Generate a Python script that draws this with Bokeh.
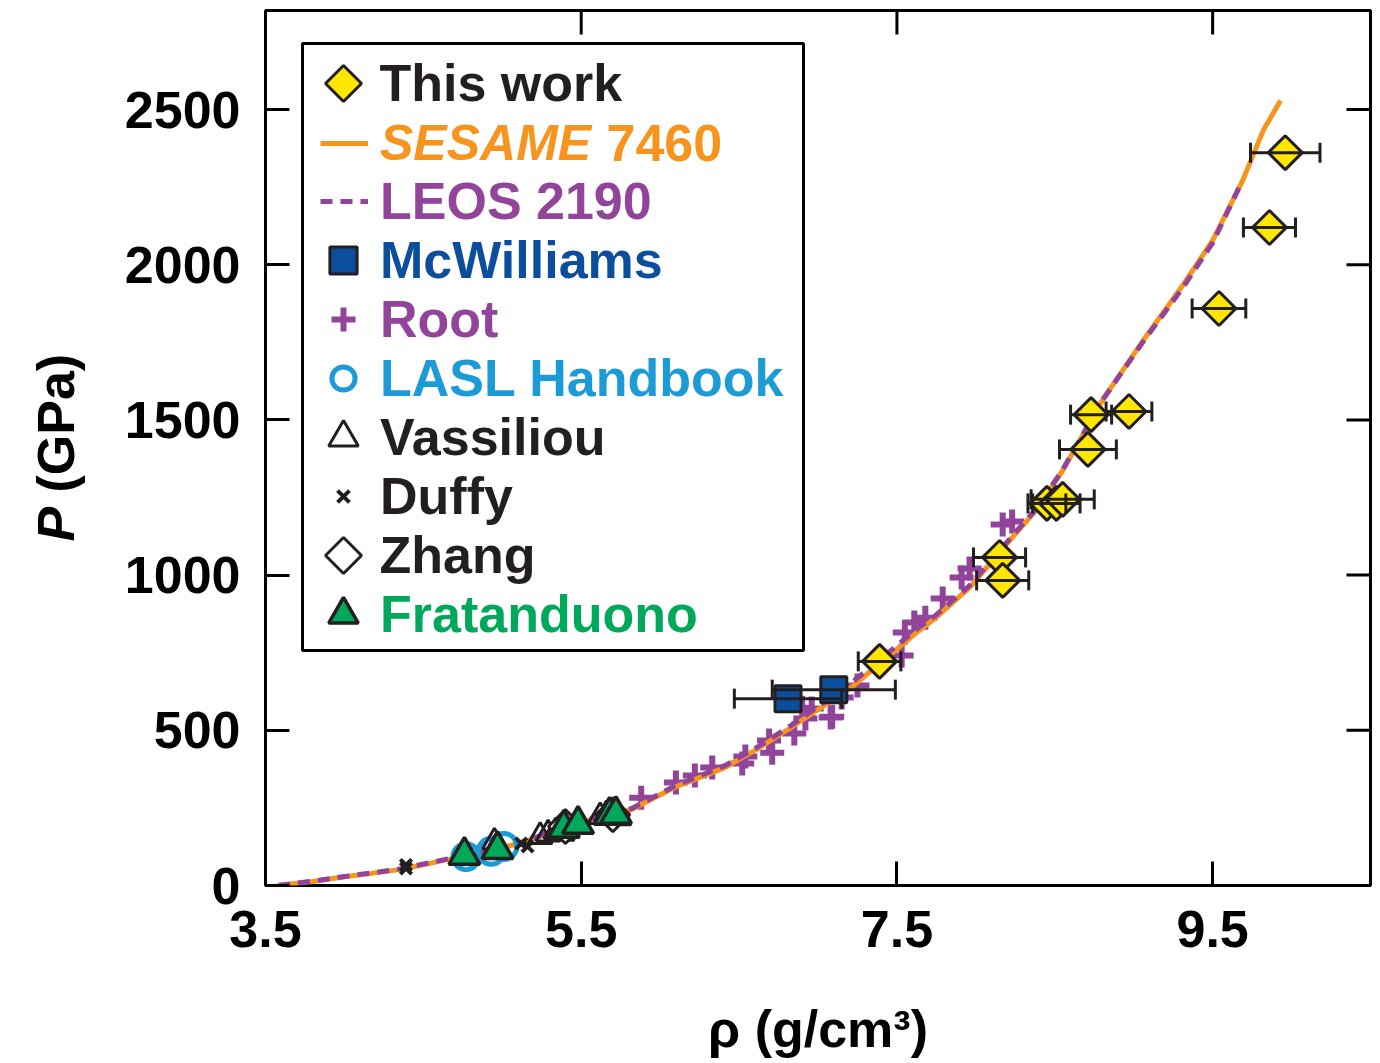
from math import pi

from bokeh.plotting import figure
from bokeh.layouts import row
from bokeh.models import (ColumnDataSource, Legend, LegendItem, Label, BoxAnnotation,
                          PolyAnnotation, Whisker, TeeHead, Range1d, FixedTicker)
from bokeh.embed import file_html
from bokeh.resources import INLINE

FONT = "Liberation Sans"
INK = "#231f20"
ORANGE = "#f7941d"
PURPLE = "#92449a"
NAVY = "#0b4f9c"
CYAN = "#1c9bd7"
GREEN = "#00a859"
YELLOW = "#ffe600"

# ---- model Hugoniots (density in g/cm3, pressure in GPa) ----
sesame_rho = [3.58, 3.80, 4.00, 4.17, 4.36, 4.63, 4.87, 5.14, 5.50, 5.82, 6.09, 6.41,
              6.62, 6.83, 7.21, 7.64, 7.74, 7.96, 8.23, 8.38, 8.55, 8.80, 9.06, 9.31,
              9.50, 9.69, 9.82, 9.93]
sesame_p = [0, 13, 28, 39, 52, 81, 106, 140, 205, 245, 316, 380,
            441, 509, 638, 821, 860, 960, 1121, 1208, 1337, 1562, 1756, 1933,
            2078, 2271, 2432, 2529]

leos_rho = [3.58, 3.80, 4.00, 4.17, 4.36, 4.63, 4.87, 5.14, 5.50, 5.82, 6.09, 6.41,
            6.62, 6.83, 7.21, 7.64, 7.74, 7.96, 8.23, 8.38, 8.55, 8.80, 9.06, 9.31,
            9.50, 9.68]
leos_p = [0, 14, 29, 40, 54, 83, 108, 142, 207, 248, 320, 386,
          447, 516, 652, 832, 868, 966, 1126, 1212, 1340, 1562, 1752, 1925,
          2070, 2262]

# ---- this work ----
tw_rho = [9.96, 9.86, 9.54, 8.97, 8.73, 8.71, 8.45, 8.51, 8.55, 8.15, 8.17, 7.39]
tw_p = [2361, 2120, 1859, 1527, 1517, 1405, 1231, 1231, 1244, 1057, 983, 722]
tw_err = [0.22, 0.165, 0.17, 0.145, 0.13, 0.18, 0.12, 0.15, 0.20, 0.165, 0.165, 0.135]

# ---- previous data ----
mcw_rho = [6.81, 7.10]
mcw_p = [602, 631]
mcw_err = [0.34, 0.39]

root_rho = [5.88, 6.10, 6.22, 6.33, 6.52, 6.54, 6.71, 6.69, 6.85, 6.90, 6.92, 6.96,
            7.08, 7.09, 7.15, 7.25, 7.53, 7.55, 7.61, 7.68, 7.79, 7.91, 7.96, 8.17, 8.23]
root_p = [283, 332, 354, 380, 393, 416, 428, 467, 490, 573, 538, 570,
          541, 544, 606, 644, 741, 815, 847, 863, 925, 992, 1021, 1163, 1173]

lasl_rho = [4.77, 4.93, 5.01]
lasl_p = [93, 110, 126]

vas_rho = [4.95, 5.24, 5.29, 5.34, 5.38, 5.62, 5.66, 5.74]
vas_p = [140, 158, 166, 174, 168, 222, 228, 218]

duffy_rho = [4.39, 4.39, 5.16, 5.12]
duffy_p = [66, 55, 126, 135]

zhang_rho = [5.40, 5.70]
zhang_p = [190, 228]

frat_rho = [4.76, 4.97, 5.39, 5.48, 5.68, 5.72]
frat_p = [97, 116, 184, 197, 226, 229]

x_ticks = [3.5, 5.5, 7.5, 9.5]
y_ticks = [0, 500, 1000, 1500, 2000, 2500]
X_LO, X_HI = 3.5, 10.5
Y_LO, Y_HI = 0, 2819

STRIP_W = 90   # width of the strip that carries the vertical axis title
TICK_LEN = 24  # inward tick length, px

# ---- main plot ----
p = figure(frame_width=1105, frame_height=875,
           min_border_left=265 - STRIP_W, min_border_right=10,
           min_border_top=10, min_border_bottom=178,
           x_range=Range1d(X_LO, X_HI), y_range=Range1d(Y_LO, Y_HI),
           output_backend="svg", toolbar_location=None)
p.background_fill_color = "white"
p.border_fill_color = "white"
p.outline_line_color = "black"
p.outline_line_width = 3
p.outline_line_alpha = 1
p.grid.visible = False

for ax in (p.xaxis[0], p.yaxis[0]):
    ax.axis_line_color = None
    ax.major_tick_in = TICK_LEN
    ax.major_tick_out = 0
    ax.major_tick_line_width = 3
    ax.major_tick_line_color = "black"
    ax.minor_tick_line_color = None
    ax.major_label_text_font = FONT
    ax.major_label_text_font_style = "bold"
    ax.major_label_text_font_size = "52px"
    ax.major_label_text_color = "black"
    ax.major_label_standoff = 25
p.xaxis.ticker = FixedTicker(ticks=x_ticks)
p.yaxis.ticker = FixedTicker(ticks=y_ticks)
p.xaxis.axis_label = "ρ (g/cm³)"
p.xaxis.axis_label_text_font = FONT
p.xaxis.axis_label_text_font_style = "bold"
p.xaxis.axis_label_text_font_size = "52px"
p.xaxis.axis_label_text_color = "black"
p.xaxis.axis_label_standoff = 50

# mirrored inward ticks on the right and top edges of the frame
p.ray(x=[X_HI] * len(y_ticks), y=y_ticks, length=TICK_LEN, length_units="screen",
      angle=pi, line_width=3, line_color="black")
p.ray(x=x_ticks, y=[Y_HI] * len(x_ticks), length=TICK_LEN, length_units="screen",
      angle=-pi / 2, line_width=3, line_color="black")

# ---- curves and points ----
r_root = p.scatter(root_rho, root_p, marker="cross", size=24, line_width=6, line_color=PURPLE)
r_ses = p.line(sesame_rho, sesame_p, line_width=5, line_color=ORANGE)
r_leos = p.line(leos_rho, leos_p, line_width=5, line_color=PURPLE, line_dash="12 8")
r_lasl = p.scatter(lasl_rho, lasl_p, marker="circle", size=26, line_width=5,
                   line_color=CYAN, fill_alpha=0)
r_vas = p.scatter(vas_rho, vas_p, marker="triangle", size=24, line_width=3,
                  line_color=INK, fill_alpha=0)
r_duffy = p.scatter(duffy_rho, duffy_p, marker="x", size=16, line_width=4, line_color=INK)
r_zhang = p.scatter(zhang_rho, zhang_p, marker="square", angle=pi / 4, size=24, line_width=3,
                    line_color=INK, fill_color="white")
r_frat = p.scatter(frat_rho, frat_p, marker="triangle", size=31, line_width=3.5,
                   line_color=INK, fill_color=GREEN)


def xerr(rho, pr, err):
    src = ColumnDataSource(dict(base=pr, lo=[r - e for r, e in zip(rho, err)],
                                hi=[r + e for r, e in zip(rho, err)]))
    w = Whisker(source=src, base="base", lower="lo", upper="hi", dimension="width",
                line_width=3, line_color=INK, level="glyph",
                lower_head=TeeHead(size=20, line_width=3, line_color=INK),
                upper_head=TeeHead(size=20, line_width=3, line_color=INK))
    p.add_layout(w)


xerr(mcw_rho, mcw_p, mcw_err)
r_mcw = p.scatter(mcw_rho, mcw_p, marker="square", size=26, line_width=3,
                  line_color=INK, fill_color=NAVY)
xerr(tw_rho, tw_p, tw_err)
r_tw = p.scatter(tw_rho, tw_p, marker="square", angle=pi / 4, size=24, line_width=3,
                 line_color=INK, fill_color=YELLOW)

# empty, transparent renderer: lets a legend row show only its label
r_blank = p.scatter([], [], marker="square", size=1, line_alpha=0, fill_alpha=0)

# ---- legend (one block per entry so every label keeps its own colour) ----
FL, FB = 265, 885          # frame left / bottom in page pixels
KEY_X, TEXT_X = 343, 380   # key centre and label start in page pixels

p.add_layout(BoxAnnotation(left=302 - FL, right=803 - FL, top=FB - 43, bottom=FB - 650,
                           left_units="screen", right_units="screen",
                           top_units="screen", bottom_units="screen",
                           fill_color="white", fill_alpha=1,
                           line_color="black", line_alpha=1, line_width=3))

# (label, renderer, colour, style, font size, key kind, key size)
entries = [
    ("This work", r_tw, INK, "bold", 52, "diamond", 0),
    ("SESAME", r_ses, ORANGE, "bold italic", 50, "line", 0),
    ("LEOS 2190", r_leos, PURPLE, "bold", 52, "line", 0),
    ("McWilliams", r_mcw, NAVY, "bold", 52, "marker", 27),
    ("Root", r_root, PURPLE, "bold", 52, "marker", 24),
    ("LASL Handbook", r_lasl, CYAN, "bold", 52, "marker", 23),
    ("Vassiliou", r_vas, INK, "bold", 52, "marker", 29.6),
    ("Duffy", r_duffy, INK, "bold", 52, "marker", 17),
    ("Zhang", r_zhang, INK, "bold", 52, "diamond", 0),
    ("Fratanduono", r_frat, GREEN, "bold", 52, "marker", 29.6),
]
diamond_keys = []
for i, (name, rend, color, style, fsize, kind, ksize) in enumerate(entries):
    yc = 83 + i * 59
    if kind == "line":
        gw, gh = 48, 40
        x0 = 320
        key_rend = rend
    elif kind == "marker":
        gw = gh = round(ksize / 0.4)
        x0 = KEY_X - gw / 2
        key_rend = rend
    else:
        gw = gh = 1
        x0 = KEY_X - 0.5
        key_rend = r_blank
        diamond_keys.append((yc, rend))
    h = max(gh, 60)
    leg = Legend(items=[LegendItem(label=name, renderers=[key_rend])],
                 location=(x0 - FL, FB - yc - h / 2),
                 glyph_width=gw, glyph_height=gh,
                 label_standoff=int(round(TEXT_X - x0 - gw)),
                 padding=0, spacing=0, margin=0,
                 border_line_color=None, background_fill_alpha=0,
                 label_text_font=FONT, label_text_font_style=style,
                 label_text_font_size=f"{fsize}px", label_text_color=color)
    p.add_layout(leg)

for yc, rend in diamond_keys:
    g = rend.glyph
    half = 18
    cx, cy = KEY_X - FL, FB - yc
    p.add_layout(PolyAnnotation(xs=[cx - half, cx, cx + half, cx],
                                ys=[cy, cy + half, cy, cy - half],
                                xs_units="screen", ys_units="screen",
                                fill_color=g.fill_color, fill_alpha=1,
                                line_color=INK, line_alpha=1, line_width=3))

p.add_layout(Label(x=606 - FL, y=FB - 142, x_units="screen", y_units="screen", text="7460",
                   text_font=FONT, text_font_style="bold", text_font_size="52px",
                   text_color=ORANGE, text_baseline="middle"))

# ---- vertical axis title, in a narrow strip left of the plot ----
# the strip's frame spans the same page rows as the main frame (10 .. 885)
t = figure(width=STRIP_W, height=1063, x_range=Range1d(0, STRIP_W), y_range=Range1d(0, 875),
           min_border_left=0, min_border_right=0, min_border_top=10, min_border_bottom=178,
           output_backend="svg", toolbar_location=None,
           x_axis_type=None, y_axis_type=None)
t.outline_line_color = None
t.grid.visible = False
t.background_fill_color = "white"
t.border_fill_color = "white"
t.add_layout(Label(x=55, y=FB - 541, text="P", angle=pi / 2,
                   text_font=FONT, text_font_style="bold italic", text_font_size="52px",
                   text_color="black", text_align="left", text_baseline="middle"))
t.add_layout(Label(x=55, y=FB - 541 + 49, text="(GPa)", angle=pi / 2,
                   text_font=FONT, text_font_style="bold", text_font_size="52px",
                   text_color="black", text_align="left", text_baseline="middle"))

layout = row(t, p, spacing=0)
open("out.html", "w").write(file_html(layout, INLINE))
